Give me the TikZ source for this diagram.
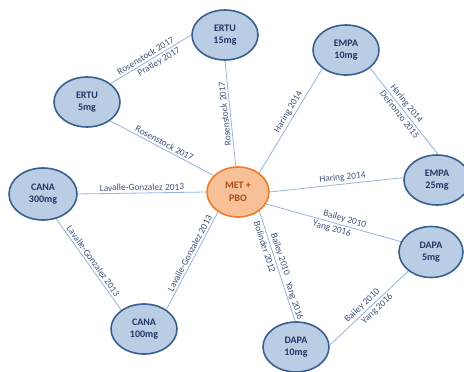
\documentclass[tikz,border=0pt]{standalone}
\usepackage{fontspec}
\setmainfont{Carlito}
\usetikzlibrary{shapes.geometric}
\definecolor{nfill}{RGB}{185,205,229}
\definecolor{ndraw}{RGB}{58,95,140}
\definecolor{ntext}{RGB}{31,56,100}
\definecolor{mfill}{RGB}{247,192,150}
\definecolor{mdraw}{RGB}{237,125,49}
\definecolor{mtext}{RGB}{165,80,25}
\definecolor{ecol}{RGB}{150,178,222}
\definecolor{ltext}{RGB}{64,84,122}
\tikzset{
  dnode/.style={ellipse, draw=ndraw, fill=nfill, line width=1.6pt, minimum width=66pt, minimum height=50pt, inner sep=0pt, align=center, text=ntext, font=\fontsize{10}{12.5}\selectfont\bfseries},
  mnode/.style={dnode, draw=mdraw, fill=mfill, text=mtext, minimum width=62pt},
  edge/.style={draw=ecol, line width=0.8pt},
  lab/.style={sloped, text=ltext, font=\fontsize{9.4}{10}\selectfont, inner sep=2pt}
}
\begin{document}
\begin{tikzpicture}[x=1pt,y=-1pt]
\useasboundingbox (0,0) rectangle (464,372);
\node[dnode] (E15) at (225,35) {ERTU\\15mg};
\node[dnode] (E5) at (87,102) {ERTU\\5mg};
\node[dnode] (M10) at (346,50) {EMPA\\10mg};
\node[dnode] (M25) at (437,180) {EMPA\\25mg};
\node[dnode, minimum width=68pt, minimum height=52pt] (C300) at (43,194) {CANA\\300mg};
\node[dnode] (C100) at (144,329) {CANA\\100mg};
\node[mnode] (MET) at (238,192) {MET +\\PBO};
\node[dnode, minimum width=64pt, minimum height=51pt] (D5) at (431,252) {DAPA\\5mg};
\node[dnode] (D10) at (296,347) {DAPA\\10mg};

\draw[edge] (E5.38) -- (E15.west)
  node[lab, above, pos=0.47] {Rosenstock 2017}
  node[lab, below, pos=0.56] {Pratley 2017};
\draw[edge] (E5.-39) -- (MET.146)
  node[lab, above, pos=0.5] {Rosenstock 2017};
\draw[edge] (MET.95) -- (E15.south)
  node[lab, allow upside down, above, pos=0.5] {Rosenstock 2017};
\draw[edge] (M10.218) -- (MET.42)
  node[lab, above, pos=0.45] {Haring 2014};
\draw[edge] (M10.-37) -- (M25.88)
  node[lab, above, pos=0.46] {Haring 2014}
  node[lab, below, pos=0.5] {DeFronzo 2015};
\draw[edge] (MET.east) -- (M25.176)
  node[lab, above, pos=0.55] {Haring 2014};
\draw[edge] (C300.east) -- (MET.west)
  node[lab, above, pos=0.5] {Lavalle-Gonzalez 2013};
\draw[edge] (C300.-62) -- (C100.140)
  node[lab, above, pos=0.5] {Lavalle-Gonzalez 2013};
\draw[edge] (MET.225) -- (C100.41)
  node[lab, above, pos=0.45] {Lavalle-Gonzalez 2013};
\draw[edge] (MET.-23) -- (D5.161)
  node[lab, above, pos=0.57] {Bailey 2010}
  node[lab, below, pos=0.5] {Yang 2016};
\draw[edge] (MET.-42) -- (D10.92)
  node[lab, below, pos=0.31] {Bolinder 2012}
  node[lab, above, pos=0.41] {Bailey 2010}
  node[lab, above, pos=0.83, inner sep=0.8pt] {Yang 2016};
\draw[edge] (D5.220) -- (D10.3)
  node[lab, above, pos=0.53] {Bailey 2010}
  node[lab, below, pos=0.45] {Yang 2016};
\end{tikzpicture}
\end{document}
